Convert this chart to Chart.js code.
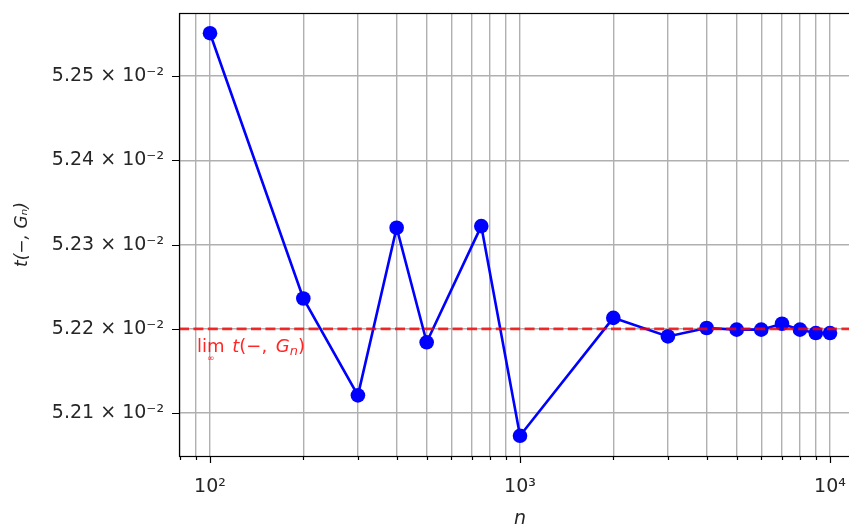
<!DOCTYPE html>
<html>
<head>
<meta charset="utf-8">
<script src="https://cdn.jsdelivr.net/npm/chart.js@4.4.1/dist/chart.umd.min.js"></script>
<style>
  html, body { margin: 0; padding: 0; overflow: hidden; background: #fff; }
  #wrap { width: 880px; height: 530px; }
</style>
</head>
<body>
<div id="wrap"><canvas id="myChart" width="880" height="530"></canvas></div>
<script>
// values
const nValues = [100, 200, 300, 400, 500, 750, 1000, 2000, 3000, 4000, 5000, 6000, 7000, 8000, 9000, 10000];
const tValues = [0.052551, 0.052236, 0.052121, 0.052320, 0.052184, 0.052322, 0.052073, 0.052213,
                 0.052191, 0.052201, 0.052199, 0.052199, 0.052206, 0.052199, 0.052195, 0.052195];
const limitValue = 0.0522;
const xRange = [79.43, 12589];
const yRange = [0.052049, 0.052575];
const xTicks = [80, 90, 100, 200, 300, 400, 500, 600, 700, 800, 900,
                1000, 2000, 3000, 4000, 5000, 6000, 7000, 8000, 9000, 10000];
const yTicks = [0.0521, 0.0522, 0.0523, 0.0524, 0.0525];
const supers = { "2": "²", "3": "³", "4": "⁴" };

const FONT = "'DejaVu Sans', sans-serif";
const isMajor = v => Math.abs(Math.log10(v) - Math.round(Math.log10(v))) < 1e-9;

var ctx = document.getElementById("myChart").getContext("2d");

// ticks, frame and the red label
const extras = {
  id: "extras",
  afterDraw(chart) {
    const c = chart.ctx, a = chart.chartArea, x = chart.scales.x, y = chart.scales.y;
    c.save();
    c.strokeStyle = "#000";
    c.lineWidth = 1.2;
    c.beginPath();
    for (const t of x.ticks) {
      const px = Math.round(x.getPixelForValue(t.value)) + 0.5;
      c.moveTo(px, a.bottom);
      c.lineTo(px, a.bottom + (isMajor(t.value) ? 7 : 4));
    }
    for (const t of y.ticks) {
      const py = Math.round(y.getPixelForValue(t.value)) + 0.5;
      c.moveTo(a.left - 7, py);
      c.lineTo(a.left, py);
    }
    c.stroke();
    c.strokeRect(Math.round(a.left) + 0.5, Math.round(a.top) + 0.5, a.right - a.left, a.bottom - a.top);

    // lim t(-, G_n)
    c.fillStyle = "rgba(255,0,0,0.85)";
    c.textBaseline = "alphabetic";
    let tx = a.left + 18;
    const ty = y.getPixelForValue(limitValue) + 23;
    const parts = [
      ["lim ", "18px " + FONT, 0, 2],
      ["t", "italic 18px " + FONT, 0, 0],
      ["(−, ", "18px " + FONT, 0, 3],
      ["G", "italic 18px " + FONT, 0, 0],
      ["n", "italic 13px " + FONT, 3, 0],
      [")", "18px " + FONT, 0, 0]
    ];
    c.font = "18px " + FONT;
    const limW = c.measureText("lim").width;
    c.font = "9px " + FONT;
    c.textAlign = "center";
    c.fillText("∞", tx + limW / 2, ty + 9);
    c.textAlign = "left";
    for (const [s, f, dy, extra] of parts) {
      c.font = f;
      c.fillText(s, tx, ty + dy);
      tx += c.measureText(s).width + extra;
    }
    c.restore();
  }
};

const myChart = new Chart(ctx, {
  type: "scatter",
  data: {
    datasets: [
      {
        label: "limit",
        data: xRange.map(v => ({ x: v, y: limitValue })),
        showLine: true,
        borderColor: "rgba(255,0,0,0.8)",
        borderWidth: 2.7,
        borderDash: [10, 4.4],
        pointRadius: 0,
        order: 0
      },
      {
        label: "t",
        data: nValues.map((n, i) => ({ x: n, y: tValues[i] })),
        showLine: true,
        borderColor: "#0000ff",
        backgroundColor: "#0000ff",
        borderWidth: 2.6,
        pointRadius: 7.3,
        pointBorderWidth: 0,
        pointHoverRadius: 7.3,
        order: 1
      }
    ]
  },
  options: {
    responsive: false,
    animation: false,
    devicePixelRatio: 1,
    layout: { padding: { top: 13, right: 19, left: 0, bottom: 0 } },
    plugins: { legend: { display: false }, tooltip: { enabled: false } },
    scales: {
      x: {
        type: "logarithmic",
        min: xRange[0],
        max: xRange[1],
        afterBuildTicks: s => { s.ticks = xTicks.map(v => ({ value: v })); },
        afterFit: s => { s.height = 74; s.paddingLeft = 0; s.paddingRight = 0; },
        border: { display: false },
        grid: { color: "#b0b0b0", lineWidth: 1.4, drawTicks: false },
        ticks: {
          autoSkip: false,
          maxRotation: 0,
          padding: 20,
          color: "#262626",
          font: { family: FONT, size: 19 },
          callback: v => isMajor(v) ? "10" + supers[String(Math.round(Math.log10(v)))] : ""
        },
        title: {
          display: true,
          text: "n",
          color: "#262626",
          font: { family: FONT, size: 19, style: "italic" },
          padding: { top: 0, bottom: 0 }
        }
      },
      y: {
        min: yRange[0],
        max: yRange[1],
        afterBuildTicks: s => { s.ticks = yTicks.map(v => ({ value: v })); },
        afterFit: s => { s.width = 179; s.paddingTop = 0; s.paddingBottom = 0; },
        border: { display: false },
        grid: { color: "#b0b0b0", lineWidth: 1.4, drawTicks: false },
        ticks: {
          padding: 15,
          color: "#262626",
          font: { family: FONT, size: 19 },
          callback: v => (v * 100).toFixed(2) + " × 10⁻²"
        },
        title: {
          display: true,
          text: "t(−, Gₙ)",
          color: "#262626",
          font: { family: FONT, size: 17, style: "italic" },
          padding: { top: 12, bottom: 0 }
        }
      }
    }
  },
  plugins: [extras]
});
</script>
</body>
</html>
